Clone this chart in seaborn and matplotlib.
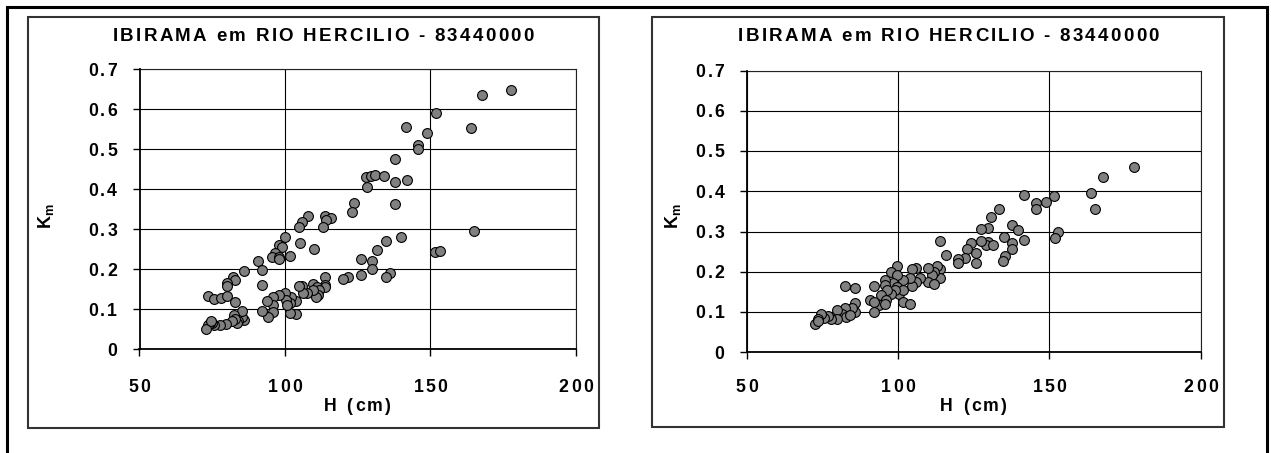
import numpy as np
import pandas as pd
import seaborn as sns
import matplotlib
matplotlib.use("Agg")
import matplotlib.pyplot as plt
from matplotlib.patches import Rectangle
from matplotlib.font_manager import FontProperties, findfont
from matplotlib.ft2font import FT2Font

# Stage H (cm) and coefficient Km, raw relation (left panel)
h_left = [177.8, 167.8, 152.0, 163.9, 141.7, 149.0, 145.9, 145.9, 137.9, 128.0,
          129.5, 131.0, 134.0, 128.1, 137.9, 141.9, 138.0, 123.9, 123.0, 108.0,
          113.8, 116.0, 114.0, 106.0, 105.0, 113.1, 100.1, 105.2, 110.1, 98.0,
          99.0, 96.5, 95.6, 98.0, 97.9, 101.8, 90.7, 92.1, 86.0, 92.1,
          82.2, 83.0, 80.0, 80.0, 73.6, 75.7, 78.0, 80.0, 82.9,
          164.9, 139.9, 134.7, 131.7, 151.7, 153.2, 126.0, 129.8, 129.8, 126.0,
          136.1, 134.7, 121.6, 120.0, 113.8, 113.8, 113.8, 109.8, 111.2, 111.7,
          111.5, 110.8, 109.5, 107.5, 105.9, 106.2, 105.0, 103.8, 103.9, 101.8,
          102.0, 101.8, 100.0, 100.3, 100.7, 97.9, 95.8, 95.8, 95.8, 93.7,
          94.1, 92.0, 86.0, 85.4, 85.1, 84.0, 83.7, 82.4, 82.7, 81.7,
          79.9, 77.8, 75.7, 75.0, 74.2, 73.6, 72.9, 74.6]
km_left = [0.648, 0.636, 0.591, 0.554, 0.557, 0.542, 0.511, 0.502, 0.476, 0.432,
           0.434, 0.437, 0.433, 0.407, 0.418, 0.424, 0.364, 0.367, 0.343, 0.334,
           0.334, 0.328, 0.324, 0.319, 0.306, 0.307, 0.280, 0.265, 0.250, 0.261,
           0.255, 0.240, 0.230, 0.232, 0.225, 0.234, 0.222, 0.198, 0.196, 0.161,
           0.180, 0.173, 0.166, 0.159, 0.133, 0.125, 0.128, 0.133, 0.118,
           0.297, 0.280, 0.270, 0.249, 0.244, 0.245, 0.226, 0.220, 0.200, 0.186,
           0.192, 0.182, 0.182, 0.176, 0.182, 0.161, 0.155, 0.163, 0.157, 0.149,
           0.135, 0.132, 0.149, 0.142, 0.159, 0.141, 0.159, 0.121, 0.088, 0.091,
           0.132, 0.116, 0.141, 0.124, 0.111, 0.136, 0.132, 0.111, 0.093, 0.121,
           0.080, 0.095, 0.074, 0.082, 0.095, 0.072, 0.066, 0.087, 0.076, 0.070,
           0.064, 0.062, 0.061, 0.067, 0.066, 0.062, 0.052, 0.070]

# Stage H (cm) and coefficient Km, adjusted relation (right panel)
h_right = [177.8, 167.8, 163.7, 165.0, 141.6, 151.6, 148.9, 145.7, 145.7, 133.5,
           130.8, 129.7, 127.4, 137.6, 139.6, 141.6, 134.9, 137.6, 137.6, 135.5,
           134.6, 152.8, 151.8, 129.7, 129.2, 131.5, 127.4, 124.0, 122.7, 125.7,
           125.7, 122.0, 119.7, 119.7, 115.9, 113.9, 113.9, 112.8, 113.9, 111.9,
           111.2, 109.9, 109.9, 111.9, 107.4, 105.8, 104.5, 105.8, 104.5, 103.8,
           101.8, 99.7, 97.7, 99.7, 98.4, 99.7, 100.4, 101.5, 99.0, 97.7,
           95.7, 95.7, 96.4, 94.3, 96.1, 93.6, 95.7, 101.8, 103.9, 91.9,
           90.7, 91.9, 91.9, 82.6, 85.8, 85.8, 85.8, 84.9, 82.6, 81.5,
           82.8, 84.2, 79.9, 79.9, 77.8, 76.8, 75.4, 74.5, 73.6, 72.7, 73.4]
km_right = [0.460, 0.436, 0.397, 0.357, 0.390, 0.388, 0.373, 0.370, 0.357, 0.355,
            0.336, 0.309, 0.306, 0.317, 0.303, 0.279, 0.286, 0.271, 0.256, 0.239,
            0.228, 0.298, 0.285, 0.275, 0.267, 0.266, 0.277, 0.271, 0.258, 0.246,
            0.221, 0.235, 0.231, 0.221, 0.242, 0.277, 0.208, 0.214, 0.184, 0.200,
            0.192, 0.210, 0.175, 0.171, 0.184, 0.210, 0.208, 0.175, 0.164, 0.184,
            0.179, 0.215, 0.200, 0.192, 0.173, 0.163, 0.146, 0.154, 0.154, 0.146,
            0.179, 0.167, 0.156, 0.142, 0.131, 0.117, 0.120, 0.125, 0.119, 0.164,
            0.131, 0.125, 0.100, 0.164, 0.159, 0.123, 0.100, 0.109, 0.109, 0.096,
            0.088, 0.092, 0.106, 0.084, 0.084, 0.090, 0.086, 0.095, 0.084, 0.071, 0.078]

title = "IBIRAMA em RIO HERCILIO - 83440000"
x_label = "H (cm)"
y_label = "K$_\\mathregular{m}$"
x_ticks = [50, 100, 150, 200]
y_ticks = [0.0, 0.1, 0.2, 0.3, 0.4, 0.5, 0.6, 0.7]
y_tick_labels = ["0", "0.1", "0.2", "0.3", "0.4", "0.5", "0.6", "0.7"]

sns.set_theme(style="white")
plt.rcParams["font.family"] = ["Liberation Sans", "DejaVu Sans"]

W, HP = 1271, 453
DPI = 100
fig = plt.figure(figsize=(W / DPI, HP / DPI), dpi=DPI)
fig.patch.set_facecolor("white")


def axes_px(x0, x1, ytop, ybot):
    return fig.add_axes([x0 / W, 1 - ybot / HP, (x1 - x0) / W, (ybot - ytop) / HP])


def tracked(x, y, s, size, track, ha="center"):
    """Draw text letter by letter with extra spacing; x, y in pixels from top-left, y is baseline."""
    fp = FontProperties(family="Liberation Sans", weight="bold", size=size)
    font = FT2Font(findfont(fp))
    font.set_size(size, DPI)
    adv = []
    for c in s:
        g = font.load_char(ord(c))
        adv.append(g.linearHoriAdvance / 65536)
    total = sum(adv) + track * (len(s) - 1)
    if ha == "center":
        xs = x - total / 2
    elif ha == "right":
        xs = x - total
    else:
        xs = x
    for c, a in zip(s, adv):
        fig.text(xs / W, 1 - y / HP, c, fontproperties=fp, ha="left", va="baseline",
                 color="black")
        xs += a + track


def tracked_width(s, size, width, x_center, y):
    fp = FontProperties(family="Liberation Sans", weight="bold", size=size)
    font = FT2Font(findfont(fp))
    font.set_size(size, DPI)
    base = sum(font.load_char(ord(c)).linearHoriAdvance / 65536 for c in s)
    tracked(x_center, y, s, size, (width - base) / (len(s) - 1))


panels = [
    dict(h=h_left, k=km_left, box=(139.5, 575.7, 69.3, 349.3), frame=(27.7, 599.0, 16.7, 428.3),
         title_cx=323.2, ylab_x=46),
    dict(h=h_right, k=km_right, box=(746.7, 1200.7, 70.7, 352.3), frame=(651.7, 1224.0, 16.7, 427.0),
         title_cx=948.5, ylab_x=673),
]

# outer border and panel frames
fig.patches.append(Rectangle((6.7 / W, -0.2), (1266.7 - 6.7) / W, 1 - 7.3 / HP + 0.2,
                             transform=fig.transFigure, fill=False, edgecolor="black",
                             linewidth=2.2, zorder=0))

for p in panels:
    fx0, fx1, fyt, fyb = p["frame"]
    fig.patches.append(Rectangle((fx0 / W, 1 - fyb / HP), (fx1 - fx0) / W, (fyb - fyt) / HP,
                                 transform=fig.transFigure, fill=False, edgecolor="#333333",
                                 linewidth=1.5, zorder=0))
    x0, x1, yt, yb = p["box"]
    ax = axes_px(x0, x1, yt, yb)
    df = pd.DataFrame({"H": p["h"], "Km": p["k"]})
    sns.scatterplot(data=df, x="H", y="Km", ax=ax, s=50, color="#808080",
                    edgecolor="black", linewidth=0.8, legend=False, zorder=3)
    ax.set_xlim(50, 200)
    ax.set_ylim(0, 0.7)
    ax.set_xticks(x_ticks)
    ax.set_yticks(y_ticks)
    ax.grid(True, color="black", linewidth=0.8)
    ax.set_axisbelow(True)
    ax.tick_params(axis="both", direction="out", length=5, width=1.0, color="black",
                   labelbottom=False, labelleft=False, bottom=True, left=True)
    ax.set_xlabel("")
    ax.set_ylabel("")
    for side in ["left", "bottom"]:
        ax.spines[side].set_color("black")
        ax.spines[side].set_linewidth(1.3)
    for side in ["top", "right"]:
        ax.spines[side].set_color("#222222")
        ax.spines[side].set_linewidth(0.8)
    ax.spines["bottom"].set_zorder(4)
    ax.spines["left"].set_zorder(4)

    # tick labels placed from the axis transforms
    for v in x_ticks:
        xp = ax.transData.transform((v, 0))[0]
        tracked(xp, 391.5, str(v), 12.7, 2.2)
    for v, lab in zip(y_ticks, y_tick_labels):
        yp = HP - ax.transData.transform((50, v))[1]
        tracked(x0 - 22.5, yp + 6.3, lab, 12.7, 2.2, ha="right")

    tracked((x0 + x1) / 2, 411.0, x_label, 12.7, 2.4)
    tracked_width(title, 13.5, 421, p["title_cx"], 41.0)
    fig.text(p["ylab_x"] / W, 1 - 216 / HP, y_label, rotation=90, ha="center", va="center",
             fontsize=13, fontweight="bold", color="black")

fig.savefig("out.png", dpi=DPI, facecolor="white")
